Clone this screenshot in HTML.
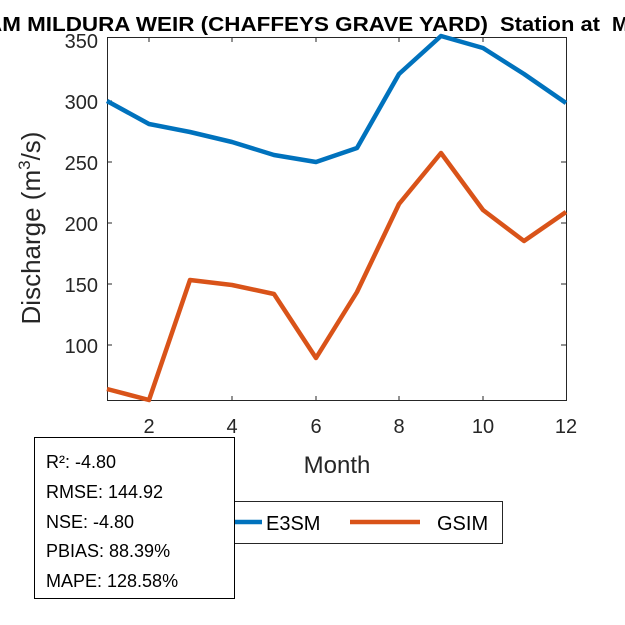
<!DOCTYPE html>
<html><head><style>body{margin:0;background:#fff}svg{display:block}</style></head><body>
<svg width="625" height="625" viewBox="0 0 625 625" xmlns="http://www.w3.org/2000/svg" font-family="Liberation Sans, Arial, sans-serif">
<rect width="625" height="625" fill="#fff"/>
<text x="-14" y="31" font-size="20" font-weight="bold" fill="#000" textLength="502" lengthAdjust="spacingAndGlyphs">AM MILDURA WEIR (CHAFFEYS GRAVE YARD)</text>
<text x="500" y="31" font-size="20" font-weight="bold" fill="#000" textLength="100" lengthAdjust="spacingAndGlyphs">Station at</text>
<text x="612" y="31" font-size="20" font-weight="bold" fill="#000">MILDURA</text>
<rect x="107.5" y="37.5" width="459" height="363" fill="none" stroke="#262626" stroke-width="1"/>
<g stroke="#262626" stroke-width="1">
<line x1="149" y1="400" x2="149" y2="396"/><line x1="232" y1="400" x2="232" y2="396"/><line x1="316" y1="400" x2="316" y2="396"/><line x1="399" y1="400" x2="399" y2="396"/><line x1="483" y1="400" x2="483" y2="396"/>
<line x1="149" y1="38" x2="149" y2="42"/><line x1="232" y1="38" x2="232" y2="42"/><line x1="316" y1="38" x2="316" y2="42"/><line x1="399" y1="38" x2="399" y2="42"/><line x1="483" y1="38" x2="483" y2="42"/>
<line x1="107" y1="101" x2="112" y2="101"/><line x1="107" y1="162" x2="112" y2="162"/><line x1="107" y1="223" x2="112" y2="223"/><line x1="107" y1="284" x2="112" y2="284"/><line x1="107" y1="345" x2="112" y2="345"/>
<line x1="566" y1="101" x2="561" y2="101"/><line x1="566" y1="162" x2="561" y2="162"/><line x1="566" y1="223" x2="561" y2="223"/><line x1="566" y1="284" x2="561" y2="284"/><line x1="566" y1="345" x2="561" y2="345"/>
</g>
<g font-size="20" fill="#262626" text-anchor="end">
<text x="98" y="48">350</text><text x="98" y="109">300</text><text x="98" y="170">250</text><text x="98" y="231">200</text><text x="98" y="292">150</text><text x="98" y="353">100</text>
</g>
<g font-size="20" fill="#262626" text-anchor="middle">
<text x="149" y="433">2</text><text x="232" y="433">4</text><text x="316" y="433">6</text><text x="399" y="433">8</text><text x="483" y="433">10</text><text x="566" y="433">12</text>
<text x="337" y="473" font-size="24">Month</text>
</g>
<text transform="translate(40,228) rotate(-90)" font-size="26" fill="#262626" text-anchor="middle">Discharge (m<tspan dy="-10" font-size="17">3</tspan><tspan dy="10">/s)</tspan></text>
<polyline fill="none" stroke="#0072BD" stroke-width="4.5" stroke-linejoin="round" points="107,101 149,124 190,132 232,142 274,155 316,162 357,148 399,74 441,36 483,48 524,74 566,103"/>
<polyline fill="none" stroke="#D95319" stroke-width="4.5" stroke-linejoin="round" points="107,389 149,400 190,280 232,285 274,294 316,358 357,292 399,204 441,153 483,210 524,241 566,212"/>
<rect x="230.5" y="501.5" width="272" height="42" fill="#fff" stroke="#262626"/>
<line x1="235" y1="522" x2="262" y2="522" stroke="#0072BD" stroke-width="4.5"/>
<text x="266" y="530" font-size="20" fill="#000">E3SM</text>
<line x1="350" y1="522" x2="420" y2="522" stroke="#D95319" stroke-width="4.5"/>
<text x="437" y="530" font-size="20" fill="#000">GSIM</text>
<rect x="34.5" y="437.5" width="200" height="161" fill="#fff" stroke="#000"/>
<g font-size="18" fill="#000">
<text x="46" y="468">R²: -4.80</text><text x="46" y="498">RMSE: 144.92</text><text x="46" y="528">NSE: -4.80</text><text x="46" y="557">PBIAS: 88.39%</text><text x="46" y="587">MAPE: 128.58%</text>
</g>
</svg>
</body></html>
